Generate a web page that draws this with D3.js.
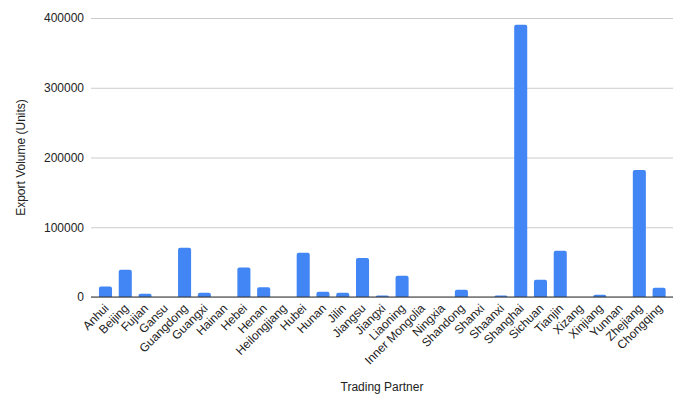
<!DOCTYPE html>
<html lang="en">
<head>
    <meta charset="UTF-8">
    <title>Export Volume by Trading Partner</title>
    <script src="https://d3js.org/d3.v7.min.js"></script>
    <style>
        body { margin: 0; background: #fff; }
        svg { display: block; font-family: Arial, "Liberation Sans", sans-serif; }
    </style>
</head>
<body>
    <div id="chart"></div>

    <script>
        // Data
        const partners = ["Anhui", "Beijing", "Fujian", "Gansu", "Guangdong", "Guangxi", "Hainan", "Hebei",
            "Henan", "Heilongjiang", "Hubei", "Hunan", "Jilin", "Jiangsu", "Jiangxi", "Liaoning",
            "Inner Mongolia", "Ningxia", "Shandong", "Shanxi", "Shaanxi", "Shanghai", "Sichuan",
            "Tianjin", "Xizang", "Xinjiang", "Yunnan", "Zhejiang", "Chongqing"];
        const volumes = [15000, 39000, 4800, 0, 70500, 6200, 0, 42400,
            13800, 0, 63300, 7600, 6000, 56000, 2200, 30500,
            0, 0, 10500, 0, 2200, 390500, 24800,
            66200, 0, 3300, 0, 182000, 13300];
        const yTicks = [0, 100000, 200000, 300000, 400000];

        const W = 689, H = 410;
        const plot = { left: 91, right: 673, top: 18, bottom: 297 };

        const svg = d3.select("#chart").append("svg")
            .attr("width", W)
            .attr("height", H);

        const x = d3.scaleBand()
            .domain(partners)
            .range([95.6, 669])
            .paddingInner(0.34)
            .paddingOuter(0.17);

        const y = d3.scaleLinear()
            .domain([0, 400000])
            .range([plot.bottom, plot.top]);

        // gridlines + y labels
        const yAxis = svg.append("g")
            .attr("transform", `translate(${plot.left},0)`)
            .call(d3.axisLeft(y).tickValues(yTicks).tickSize(-(plot.right - plot.left)).tickPadding(7).tickFormat(d3.format("d")));
        yAxis.select(".domain").remove();
        yAxis.selectAll("line").attr("stroke", "#cccccc");
        yAxis.selectAll("text")
            .attr("fill", "#222")
            .style("font-size", "12px");

        // bars with slightly rounded tops
        const r = 2;
        svg.append("g").selectAll("path")
            .data(partners)
            .join("path")
            .attr("fill", "#4285f4")
            .attr("d", (d, i) => {
                const x0 = x(d), w = x.bandwidth();
                const y0 = y(volumes[i]), y1 = y(0);
                const h = y1 - y0;
                if (h <= 0) return null;
                const rr = Math.min(r, h, w / 2);
                return `M${x0},${y1}V${y0 + rr}Q${x0},${y0} ${x0 + rr},${y0}H${x0 + w - rr}Q${x0 + w},${y0} ${x0 + w},${y0 + rr}V${y1}Z`;
            });

        // baseline
        svg.append("line")
            .attr("x1", plot.left).attr("x2", plot.right)
            .attr("y1", y(0)).attr("y2", y(0))
            .attr("stroke", "#333")
            .attr("stroke-width", 1);

        // x labels, rotated
        svg.append("g").selectAll("text")
            .data(partners)
            .join("text")
            .attr("transform", d => `translate(${x(d) + x.bandwidth() / 2 + 4},${plot.bottom + 12}) rotate(-45)`)
            .attr("text-anchor", "end")
            .attr("fill", "#222")
            .style("font-size", "12px")
            .text(d => d);

        // axis titles
        svg.append("text")
            .attr("x", (plot.left + plot.right) / 2)
            .attr("y", 391)
            .attr("text-anchor", "middle")
            .attr("fill", "#222")
            .style("font-size", "12px")
            .text("Trading Partner");

        svg.append("text")
            .attr("transform", `translate(25,${(plot.top + plot.bottom) / 2}) rotate(-90)`)
            .attr("text-anchor", "middle")
            .attr("fill", "#222")
            .style("font-size", "12px")
            .text("Export Volume (Units)");
    </script>
</body>
</html>
